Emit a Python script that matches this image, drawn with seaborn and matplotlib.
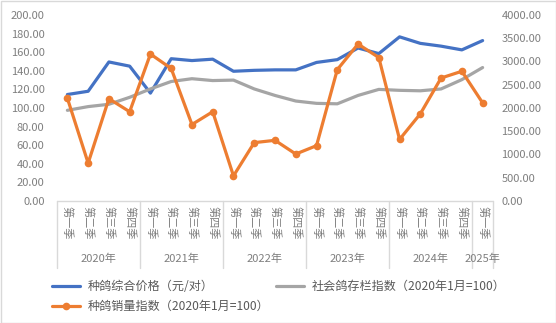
import matplotlib
matplotlib.use("Agg")
import matplotlib.pyplot as plt
import matplotlib.transforms as mtransforms
from matplotlib.lines import Line2D
from matplotlib.patches import Rectangle
import seaborn as sns
import numpy as np
import pandas as pd

quarters = ["第一季", "第二季", "第三季", "第四季"] * 5 + ["第一季"]
years = ["2020年", "2021年", "2022年", "2023年", "2024年", "2025年"]
year_counts = [4, 4, 4, 4, 4, 1]

price = [114.5, 118, 149.5, 145, 116, 153, 151, 152.5, 139.5, 140.5, 141,
         141, 149, 152, 164.5, 158.5, 176.5, 169.5, 166.5, 162.5, 172.5]
stock_index = [97.5, 101.5, 104, 111.5, 120.5, 128.5, 131.5, 129.5, 130, 120.5, 113.5,
               107.5, 105, 104.5, 113.5, 120, 119, 118.5, 120.5, 130.5, 143.5]
sales_index = [2210, 815, 2200, 1920, 3160, 2850, 1645, 1920, 540, 1255, 1305,
               1010, 1190, 2825, 3375, 3085, 1325, 1875, 2645, 2790, 2110]

label_price = "种鸽综合价格（元/对）"
label_sales = "种鸽销量指数（2020年1月=100）"
label_stock = "社会鸽存栏指数（2020年1月=100）"

sns.set_theme(style="white")
plt.rcParams["font.family"] = ["Noto Sans CJK SC", "DejaVu Sans"]

BLUE = "#4472C4"
ORANGE = "#ED7D31"
GRAY = "#A5A5A5"
TXT = "#7F7F7F"
W, H = 556, 323

fig = plt.figure(figsize=(W / 100, H / 100), dpi=100)
ax_l, ax_r, ax_t, ax_b = 57, 493, 15, 201
ax = fig.add_axes([ax_l / W, 1 - ax_b / H, (ax_r - ax_l) / W, (ax_b - ax_t) / H])

df = pd.DataFrame({"idx": np.arange(len(price)), "price": price,
                   "stock": stock_index, "sales": sales_index})

sns.lineplot(data=df, x="idx", y="price", ax=ax, color=BLUE, lw=2.3, legend=False)
sns.lineplot(data=df, x="idx", y="stock", ax=ax, color=GRAY, lw=2.3, legend=False)
ax.set_xlim(-0.5, len(price) - 0.5)
ax.set_ylim(0, 200)
ax.set_yticks(np.arange(0, 201, 20))
ax.set_yticklabels([f"{v:.2f}" for v in np.arange(0, 201, 20)])

ax2 = ax.twinx()
sns.lineplot(data=df, x="idx", y="sales", ax=ax2, color=ORANGE, lw=2.3,
             marker="o", markersize=5.5, markeredgewidth=0, legend=False)
ax2.set_ylim(0, 4000)
ax2.set_yticks(np.arange(0, 4001, 500))
ax2.set_yticklabels([f"{v:.2f}" for v in np.arange(0, 4001, 500)])
ax2.set_xlim(-0.5, len(price) - 0.5)

for a in (ax, ax2):
    for s in a.spines.values():
        s.set_visible(False)
    a.set_xlabel("")
    a.set_ylabel("")
    a.set_xticks([])
    a.tick_params(axis="y", length=0, labelsize=8, labelcolor=TXT)
ax.tick_params(axis="y", pad=9)
ax2.tick_params(axis="y", pad=6)
ax.grid(False)
ax2.grid(False)

# category axis
trans = mtransforms.blended_transform_factory(ax.transData, ax.transAxes)
ah = ax_b - ax_t
def yfrac(py):
    return (ax_b - py) / ah

ax.plot([-0.5, len(price) - 0.5], [0, 0], transform=trans, color="#D9D9D9",
        lw=1, clip_on=False)
for i, q in enumerate(quarters):
    ax.text(i, yfrac(206), q, transform=trans, rotation=-90, ha="center", va="top",
            fontsize=8, color=TXT)
start = 0
bounds = [-0.5]
for y, c in zip(years, year_counts):
    ax.text(start + (c - 1) / 2, yfrac(259), y, transform=trans, ha="center",
            va="center", fontsize=8, color=TXT)
    start += c
    bounds.append(start - 0.5)
for b in bounds:
    ax.plot([b, b], [0, yfrac(268)], transform=trans, color="#D9D9D9", lw=1,
            clip_on=False)

handles = [Line2D([], [], color=BLUE, lw=2.3),
           Line2D([], [], color=ORANGE, lw=2.3, marker="o", markersize=5.5,
                  markeredgewidth=0),
           Line2D([], [], color=GRAY, lw=2.3)]
fs = 8.7
em = fs * 100 / 72
fig.legend(handles, [label_price, label_sales, label_stock], ncol=2,
           loc="upper left", bbox_to_anchor=(52 / W, 1 - 280 / H), frameon=False,
           fontsize=fs, handlelength=28 / em, handletextpad=8 / em,
           columnspacing=0.5, labelcolor="#595959", labelspacing=0.6,
           borderaxespad=0, borderpad=0)

fig.patches.append(Rectangle((0.5 / W, 0.5 / H), 1 - 1 / W, 1 - 1 / H,
                             transform=fig.transFigure, fill=False,
                             edgecolor="#D9D9D9", lw=1))
fig.savefig("out.png", dpi=100)
